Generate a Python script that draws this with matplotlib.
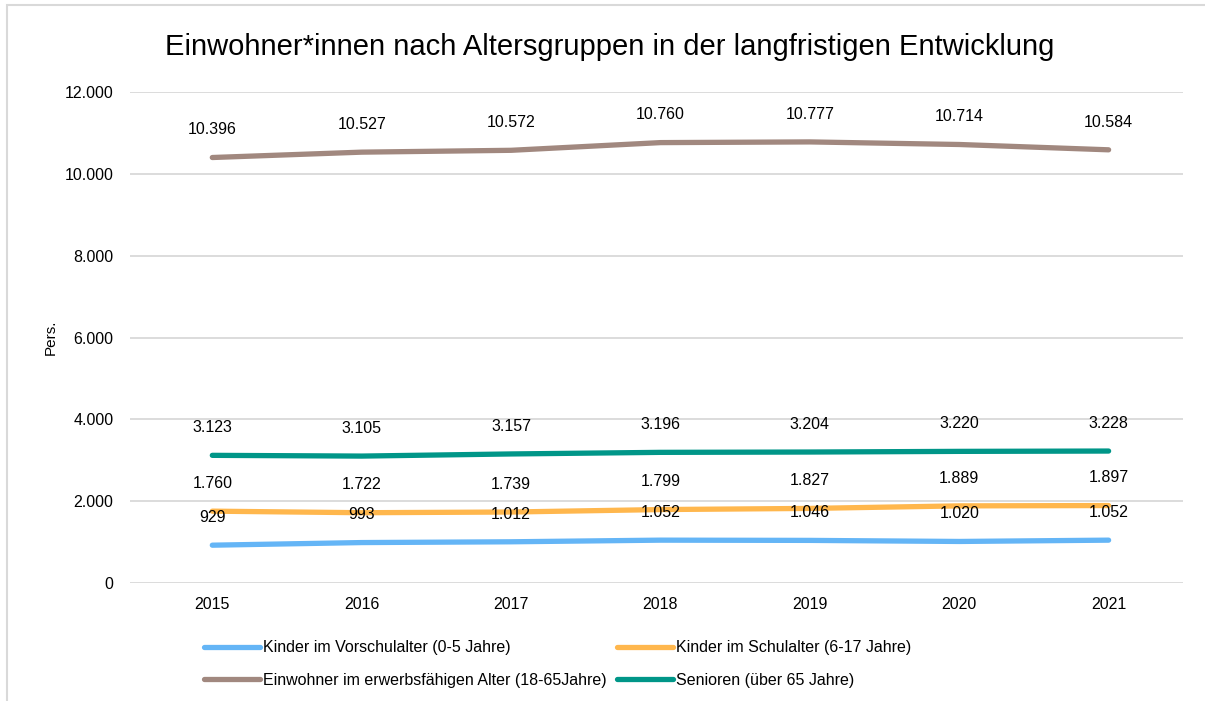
import matplotlib.pyplot as plt
from matplotlib.patches import Rectangle

plt.rcParams['font.family'] = ['Liberation Sans', 'DejaVu Sans']

# Data
years = ["2015", "2016", "2017", "2018", "2019", "2020", "2021"]
vorschule = [929, 993, 1012, 1052, 1046, 1020, 1052]
schule = [1760, 1722, 1739, 1799, 1827, 1889, 1897]
erwerb = [10396, 10527, 10572, 10760, 10777, 10714, 10584]
senioren = [3123, 3105, 3157, 3196, 3204, 3220, 3228]

labels = ["Kinder im Vorschulalter (0-5 Jahre)",
          "Kinder im Schulalter (6-17 Jahre)",
          "Einwohner im erwerbsfähigen Alter (18-65Jahre)",
          "Senioren (über 65 Jahre)"]
colors = ["#64B5F6", "#FFB74D", "#A1887F", "#009688"]


def de_fmt(v):
    return f"{v:,.0f}".replace(",", ".")


fig = plt.figure(figsize=(12.05, 7.01), dpi=100)
ax = fig.add_axes([0.108, 0.168, 0.874, 0.701])

x = range(len(years))
series = [vorschule, schule, erwerb, senioren]
lines = []
for vals, lab, col in zip(series, labels, colors):
    ln, = ax.plot(x, vals, color=col, linewidth=3.8, solid_capstyle="round", label=lab)
    lines.append(ln)
    for xi, v in zip(x, vals):
        ax.annotate(de_fmt(v), (xi, v), xytext=(0, 20), textcoords="offset points",
                    ha="center", va="center", fontsize=11.5, color="#000000")

ax.set_xlim(-0.55, 6.5)
ax.set_ylim(0, 12000)
ax.set_yticks(range(0, 12001, 2000))
ax.set_yticklabels([de_fmt(v) for v in range(0, 12001, 2000)], fontsize=11.5)
ax.set_xticks(list(x))
ax.set_xticklabels(years, fontsize=11.5)
ax.tick_params(length=0, pad=12)
ax.tick_params(axis="x", pad=10)
ax.grid(axis="y", color="#D9D9D9", linewidth=1.3)
ax.set_axisbelow(True)
for s in ax.spines.values():
    s.set_visible(False)

ax.set_ylabel("Pers.", fontsize=11, labelpad=5)
fig.text(0.506, 0.933, "Einwohner*innen nach Altersgruppen in der langfristigen Entwicklung",
         ha="center", va="center", fontsize=21)

# row-wise order like the original legend
order = [0, 2, 1, 3]
fig.legend(handles=[lines[i] for i in order], ncol=2, loc="upper left",
           bbox_to_anchor=(0.164, 0.096), frameon=False, fontsize=11.5,
           handlelength=3.5, handletextpad=0.2, columnspacing=0.65,
           labelspacing=1.1, borderaxespad=0)

fig.patches.append(Rectangle((0.006, -0.1), 1.1, 1.093, transform=fig.transFigure,
                             fill=False, edgecolor="#D9D9D9", linewidth=1.5))

plt.savefig("out.png", dpi=100)
